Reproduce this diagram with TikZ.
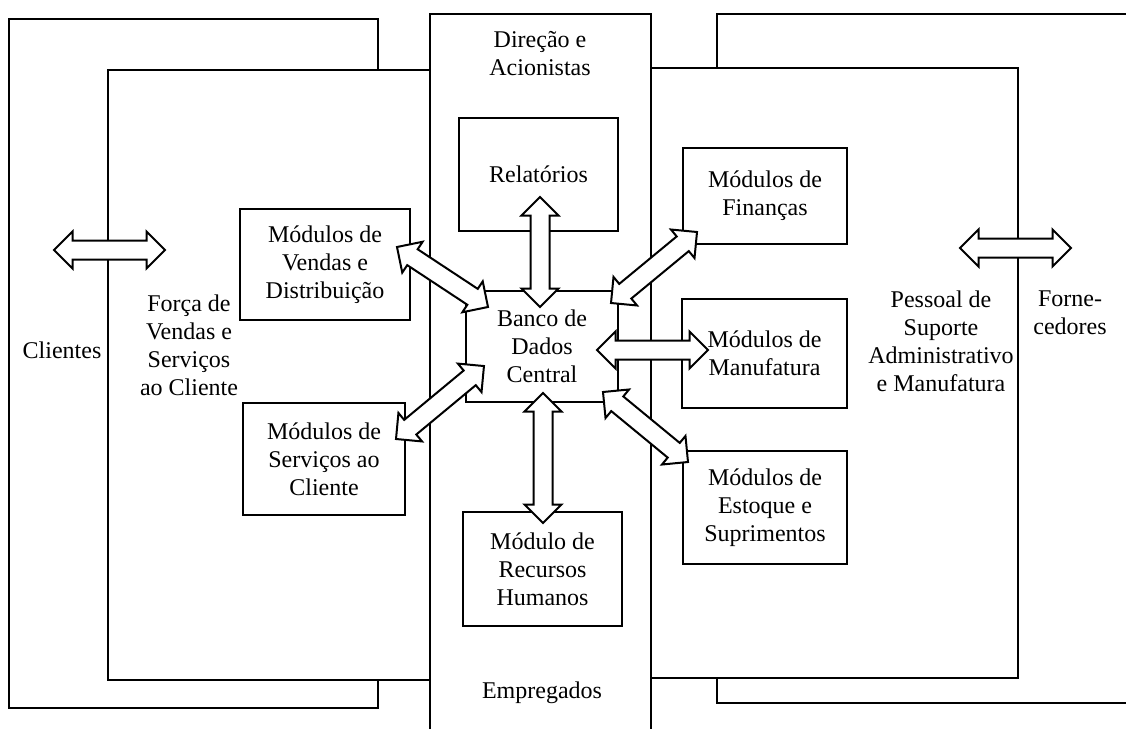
\documentclass[tikz,border=0pt]{standalone}
\usepackage{fontspec}
\setmainfont{Liberation Serif}
\usetikzlibrary{calc}

\def\headlen{18.5}
\def\headhalf{18.5}
\def\shafthalf{9.5}

% block arrow with both tips, from one named point to another
\newcommand{\dblarrow}[2]{%
  \draw[blockarrow] let \p1=($(#2)-(#1)$), \n1={veclen(\x1,\y1)}, \n2={atan2(\y1,\x1)} in
    [shift={(#1)}, rotate=\n2]
    (0,0) -- (\headlen,\headhalf) -- (\headlen,\shafthalf)
    -- ({\n1-\headlen},\shafthalf) -- ({\n1-\headlen},\headhalf) -- (\n1,0)
    -- ({\n1-\headlen},-\headhalf) -- ({\n1-\headlen},-\shafthalf)
    -- (\headlen,-\shafthalf) -- (\headlen,-\headhalf) -- cycle;}

\begin{document}
\begin{tikzpicture}[x=1pt,y=-1pt,line width=2pt,font=\fontsize{24}{28}\selectfont]
  \tikzstyle{module}=[draw, fill=white, align=center, inner sep=0pt]
  \tikzstyle{annot}=[align=center, inner sep=0pt]
  \tikzstyle{blockarrow}=[draw, fill=white, line join=miter]

  \useasboundingbox (0,0) rectangle (1126,729);

  % Draw the areas
  \draw (9,19) rectangle (378,708);
  \draw (1126,14) -- (717,14) -- (717,703) -- (1126,703);
  \draw[fill=white] (108,70) rectangle (430,680);
  \draw[fill=white] (651,68) rectangle (1018,678);
  \draw[fill=white] (430,729) -- (430,14) -- (651,14) -- (651,729);

  % Area labels
  \node[annot] (dir) at (540,54) {Direção e\\Acionistas};
  \node[annot] (emp) at (542,693) {Empregados};
  \node[annot] (cli) at (62,350) {Clientes};
  \node[annot] (forca) at (189,345) {Força de\\Vendas e\\Serviços\\ao Cliente};
  \node[annot] (pessoal) at (941,341) {Pessoal de\\Suporte\\Administrativo\\e Manufatura};
  \node[annot] (forn) at (1070,313) {Forne-\\cedores};

  % Draw the modules
  \node[module, minimum width=159pt, minimum height=113pt] (rel) at (538.5,174.5) {Relatórios};
  \node[module, minimum width=170pt, minimum height=111pt] (vendas) at (325,264.5) {Módulos de\\Vendas e\\Distribuição};
  \node[module, minimum width=162pt, minimum height=112pt] (serv) at (324,459) {Módulos de\\Serviços ao\\Cliente};
  \node[module, minimum width=152pt, minimum height=111pt] (banco) at (542,346.5) {Banco de\\Dados\\Central};
  \node[module, minimum width=164pt, minimum height=96pt] (fin) at (765,196) {Módulos de\\Finanças};
  \node[module, minimum width=165pt, minimum height=109pt] (manu) at (764.5,353.5) {Módulos de\\Manufatura};
  \node[module, minimum width=164pt, minimum height=113pt] (est) at (765,507.5) {Módulos de\\Estoque e\\Suprimentos};
  \node[module, minimum width=159pt, minimum height=114pt] (rh) at (542.5,569) {Módulo de\\Recursos\\Humanos};

  % Arrow tips
  \coordinate (cli-a) at (54,250);
  \coordinate (cli-b) at (165,250);
  \coordinate (forn-a) at (960,248);
  \coordinate (forn-b) at (1071,248);
  \coordinate (rel-a) at (540,197);
  \coordinate (rel-b) at (540,307);
  \coordinate (rh-a) at (543,393);
  \coordinate (rh-b) at (543,523);
  \coordinate (manu-a) at (597,350);
  \coordinate (manu-b) at (708,350);
  \coordinate (vendas-a) at (397,247);
  \coordinate (vendas-b) at (488,307);
  \coordinate (serv-a) at (396,439);
  \coordinate (serv-b) at (484,366);
  \coordinate (fin-a) at (697,232);
  \coordinate (fin-b) at (611,303);
  \coordinate (est-a) at (603,392);
  \coordinate (est-b) at (688,462);

  % Connect the modules
  \foreach \name in {cli,forn,rel,rh,manu,vendas,serv,fin,est}
    {\dblarrow{\name-a}{\name-b}}
\end{tikzpicture}
\end{document}
